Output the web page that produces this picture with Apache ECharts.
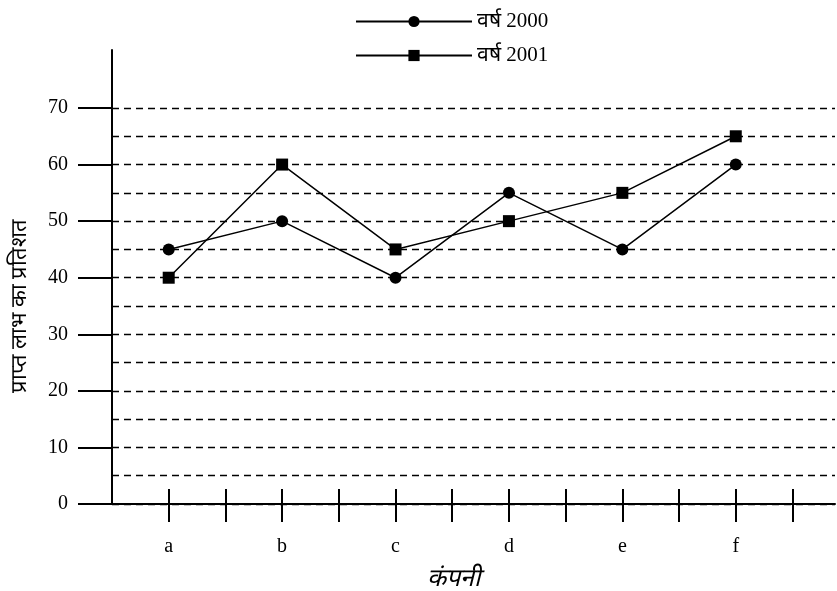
<!DOCTYPE html>
<html>
<head>
<meta charset="utf-8">
<script src="https://cdn.jsdelivr.net/npm/echarts@6/dist/echarts.min.js"></script>
<style>
html,body{margin:0;padding:0;background:#fff;}
#c{width:837px;height:591px;}
</style>
</head>
<body>
<div id="c"></div>
<script>
const categories = ['a', 'b', 'c', 'd', 'e', 'f'];
const series2000 = [45, 50, 40, 55, 45, 60];
const series2001 = [40, 60, 45, 50, 55, 65];
const seriesNames = ['वर्ष 2000', 'वर्ष 2001'];
const yTitle = 'प्राप्त लाभ का प्रतिशत';
const xTitle = 'कंपनी';

// category i sits at position 2*i+1 on the x scale, dividers at even positions
const catPos = categories.map((c, i) => 2 * i + 1);
const tickPos = [];
for (let k = 1; k <= 2 * categories.length; k++) tickPos.push(k);

const font = '"Liberation Serif", "DejaVu Serif", serif';
const chart = echarts.init(document.getElementById('c'));

const xBase = {
  type: 'value', min: 0, max: 12.75, gridIndex: 0, position: 'bottom',
  splitLine: { show: false }
};

chart.setOption({
  backgroundColor: '#fff',
  animation: false,
  textStyle: { fontFamily: font, color: '#000' },
  legend: {
    orient: 'vertical', left: 350, top: 6, itemWidth: 116, itemHeight: 14, itemGap: 13,
    textStyle: { fontFamily: font, fontSize: 21, color: '#000' },
    data: seriesNames
  },
  grid: [
    { left: 112, right: 2, top: 108, bottom: 87, outerBoundsMode: 'none', containLabel: false },
    { left: 112, right: 2, top: 50, bottom: 87, outerBoundsMode: 'none', containLabel: false }
  ],
  xAxis: [
    Object.assign({}, xBase, {
      axisLine: { show: true, lineStyle: { color: '#000', width: 2 } },
      axisTick: { show: true, customValues: tickPos, length: 18, lineStyle: { color: '#000', width: 2 } },
      axisLabel: {
        show: true, customValues: catPos, margin: 33, fontSize: 20, color: '#000', fontFamily: font,
        formatter: v => categories[(v - 1) / 2] || ''
      },
      name: xTitle, nameLocation: 'middle', nameGap: 63,
      nameTextStyle: { fontSize: 25, fontStyle: 'italic', color: '#000', fontFamily: font, padding: [0, 40, 0, 0] }
    }),
    Object.assign({}, xBase, {
      axisLine: { show: false },
      axisTick: { show: true, inside: true, customValues: tickPos, length: 15, lineStyle: { color: '#000', width: 2 } },
      axisLabel: { show: false }
    }),
    { type: 'value', gridIndex: 1, min: 0, max: 1, show: false }
  ],
  yAxis: [
    {
      type: 'value', gridIndex: 0, min: 0, max: 70, interval: 10,
      axisLine: { show: true, lineStyle: { color: '#000', width: 2 } },
      axisTick: { show: true, length: 34, lineStyle: { color: '#000', width: 2 } },
      minorTick: { show: false, splitNumber: 2 },
      axisLabel: { margin: 44, fontSize: 20, color: '#000', fontFamily: font },
      splitLine: { show: true, lineStyle: { color: '#000', width: 1.3, type: [7, 5] } },
      minorSplitLine: { show: true, lineStyle: { color: '#000', width: 1.3, type: [7, 5] } },
      name: yTitle, nameLocation: 'middle', nameGap: 81,
      nameTextStyle: { fontSize: 22, color: '#000', fontFamily: font }
    },
    {
      type: 'value', gridIndex: 1, min: 0, max: 80,
      axisLine: { show: true, lineStyle: { color: '#000', width: 2 } },
      axisTick: { show: false }, axisLabel: { show: false }, splitLine: { show: false }
    }
  ],
  series: [
    {
      name: seriesNames[0], type: 'line', xAxisIndex: 0, yAxisIndex: 0,
      data: series2000.map((v, i) => [catPos[i], v]),
      symbol: 'circle', symbolSize: 12,
      lineStyle: { color: '#000', width: 1.5 }, itemStyle: { color: '#000' }
    },
    {
      name: seriesNames[1], type: 'line', xAxisIndex: 0, yAxisIndex: 0,
      data: series2001.map((v, i) => [catPos[i], v]),
      symbol: 'rect', symbolSize: 12,
      lineStyle: { color: '#000', width: 1.5 }, itemStyle: { color: '#000' }
    }
  ]
});
</script>
</body>
</html>
